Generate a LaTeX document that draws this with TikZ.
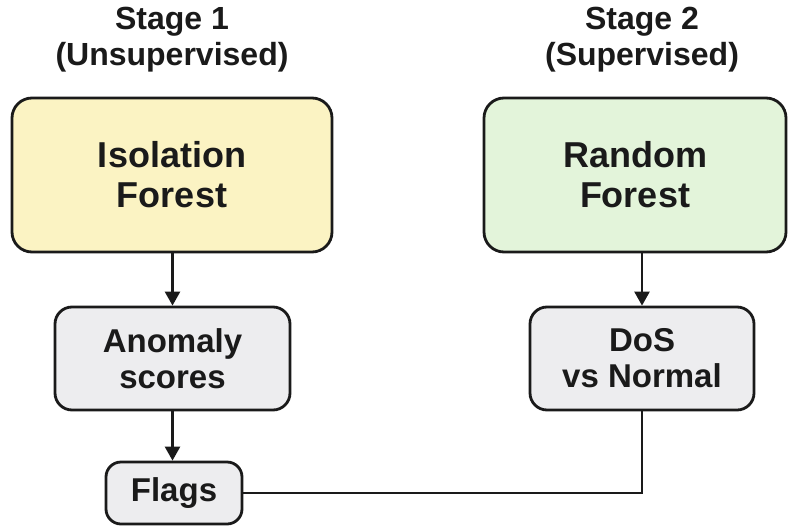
\documentclass[tikz,border=0pt]{standalone}
\usepackage{fontspec}
\setmainfont{Liberation Sans}
\usetikzlibrary{arrows.meta}
\definecolor{ifyellow}{HTML}{FBF3C3}
\definecolor{rfgreen}{HTML}{E3F4DA}
\definecolor{boxgray}{HTML}{EDEDEF}
\definecolor{ink}{HTML}{1A1A1A}
\tikzset{
  bigbox/.style={draw=ink, line width=2.8pt, rounded corners=20pt, align=center,
    font=\bfseries\fontsize{36}{40}\selectfont, text=ink, inner sep=0pt},
  smallbox/.style={draw=ink, line width=2.8pt, rounded corners=17pt, align=center,
    fill=boxgray, font=\bfseries\fontsize{33}{36}\selectfont, text=ink, inner sep=0pt},
  heading/.style={align=center, font=\bfseries\fontsize{32}{36}\selectfont, text=ink},
  conn/.style={draw=ink, line width=2.5pt},
  arr/.style={conn, -{Triangle[width=15pt,length=14pt]}}
}
\begin{document}
\begin{tikzpicture}[x=1pt,y=-1pt]
\fill[white] (0,0) rectangle (791,527);
\useasboundingbox (0,0) rectangle (791,527);
\node[heading] (h1) at (172,40) {Stage 1\\(Unsupervised)};
\node[heading] (h2) at (642,40) {Stage 2\\(Supervised)};
\node[bigbox, fill=ifyellow, minimum width=320pt, minimum height=154pt] (if) at (172,175) {Isolation\\Forest};
\node[bigbox, fill=rfgreen, minimum width=302pt, minimum height=154pt] (rf) at (635,175) {Random\\Forest};
\node[smallbox, minimum width=235pt, minimum height=103pt] (as) at (172.5,358.5) {Anomaly\\scores};
\node[smallbox, minimum width=224pt, minimum height=103pt] (dos) at (642,358.5) {DoS\\vs Normal};
\node[smallbox, minimum width=136pt, minimum height=62pt, rounded corners=15pt] (fl) at (174,493) {Flags};
\draw[arr] (if.south -| as.north) -- (as.north);
\draw[arr] (dos.north |- rf.south) -- (dos.north);
\draw[arr] (as.south) -- (as.south |- fl.north);
\draw[conn] (fl.east) -| (dos.south);
\end{tikzpicture}
\end{document}
